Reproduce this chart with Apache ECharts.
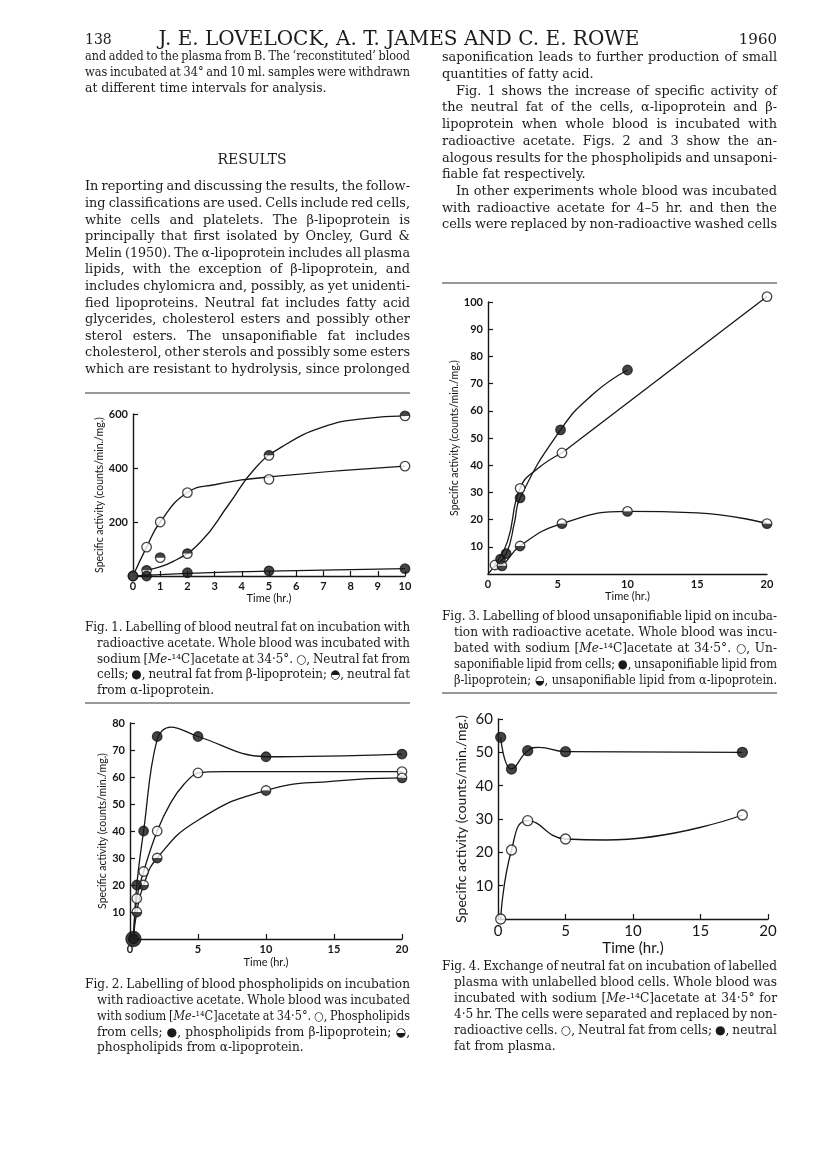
<!DOCTYPE html>
<html>
<head>
<meta charset="utf-8">
<title>Lovelock, James and Rowe 1960, p. 138</title>
<script src="https://cdn.jsdelivr.net/npm/echarts@6/dist/echarts.min.js"></script>
<style>html,body{margin:0;padding:0;background:#fff;}</style>
</head>
<body>
<div id="main" style="width:816px;height:1155px;"></div>
<script type="text/javascript">
// ---- values: [time (hr.), counts/min./mg.] ----
// Fig. 1 neutral fat
var fig1CellPoints  = [[0, 0], [0.5, 107], [1, 200], [2, 309], [5, 358], [10, 407]];
var fig1CellCurve   = [[0, 0], [0.5, 107], [1, 200], [2, 309], [3, 338], [5, 367], [10, 407]];
var fig1BetaPoints  = [[0, 0], [0.5, 0], [2, 12], [5, 19], [10, 27]];
var fig1BetaCurve   = [[0, 0], [2, 10], [5, 18], [10, 27]];
var fig1AlphaPoints = [[0.5, 21], [1, 68], [2, 83], [5, 447], [10, 593]];
var fig1AlphaCurve  = [[0.5, 22], [1.5, 55], [2.5, 128], [3.5, 262], [4.5, 400], [5.5, 480], [7, 552], [8.5, 583], [10, 593]];
// Fig. 2 phospholipids
var fig2CellPoints  = [[0.25, 0], [0.5, 15], [1, 25], [2, 40], [5, 61.5], [20, 62]];
var fig2CellCurve   = [[0.25, 0], [0.5, 15], [1, 25], [2, 40], [3, 50.5], [4, 57.5], [5, 61.5], [7, 62], [20, 62]];
var fig2BetaPoints  = [[0.25, 0], [0.5, 20], [1, 40], [2, 75], [5, 75], [10, 67.5], [20, 68.5]];
var fig2BetaCurve   = [[0.25, 0], [0.5, 20], [1, 40], [2, 74], [3, 78.5], [5, 75], [10, 67.5], [20, 68.5]];
var fig2AlphaPoints = [[0.5, 10], [1, 20], [2, 30], [10, 55], [20, 59.7]];
var fig2AlphaCurve  = [[0.25, 0], [0.5, 10], [1, 20], [2, 30], [5, 44], [10, 55], [15, 58.5], [20, 59.7]];
// Fig. 3 unsaponifiable lipid
var fig3CellPoints  = [[0.5, 3.3], [2.3, 31.5], [5.3, 44.5], [20, 102]];
var fig3CellCurve   = [[0, 0], [0.5, 3.3], [1.4, 12], [2.3, 31.5], [3.5, 38.5], [5.3, 44.5]];
var fig3CellLine    = [[5.3, 44.5], [20, 102]];
var fig3BetaPoints  = [[0.9, 5.5], [1.3, 7.5], [2.3, 28], [5.2, 53], [10, 75]];
var fig3BetaCurve   = [[0.3, 2], [1.3, 7.5], [1.9, 19], [2.3, 28], [5.2, 53], [7.5, 66], [10, 75]];
var fig3AlphaPoints = [[1, 3], [2.3, 10.3], [5.3, 18.5], [10, 23], [20, 18.5]];
var fig3AlphaCurve  = [[0.5, 2], [1, 3], [2.3, 10.3], [5.3, 18.5], [10, 23], [15, 22.5], [20, 18.5]];
// Fig. 4 exchange of neutral fat
var fig4PlasmaPoints = [[0.2, 54.5], [1, 45], [2.2, 50.5], [5, 50.2], [18.1, 50]];
var fig4PlasmaCurve  = [[0.2, 54.5], [1, 45], [2.2, 50.5], [3, 51.5], [5, 50.2], [18.1, 50]];
var fig4CellPoints   = [[0.2, 0], [1, 20.7], [2.2, 29.5], [5, 24], [18.1, 31.2]];
var fig4CellCurve    = [[0.2, 0], [1, 20.7], [2.2, 29.5], [5, 24], [8, 23.7], [18.1, 31.2]];

// ---- page text (one entry per printed line) ----
var headerTitle = 'J. E. LOVELOCK, A. T. JAMES AND C. E. ROWE';
var leftTopLines = [
  'and added to the plasma from B. The \u2018reconstituted\u2019 blood',
  'was incubated at 34\u00b0 and 10 ml. samples were withdrawn',
  'at different time intervals for analysis.'
];
var resultsLines = [
  'In reporting and discussing the results, the follow-',
  'ing classifications are used.  Cells include red cells,',
  'white cells and platelets. The \u03b2-lipoprotein is',
  'principally that first isolated by Oncley, Gurd &',
  'Melin (1950). The \u03b1-lipoprotein includes all plasma',
  'lipids, with the exception of \u03b2-lipoprotein, and',
  'includes chylomicra and, possibly, as yet unidenti-',
  'fied lipoproteins. Neutral fat includes fatty acid',
  'glycerides, cholesterol esters and possibly other',
  'sterol esters. The unsaponifiable fat includes',
  'cholesterol, other sterols and possibly some esters',
  'which are resistant to hydrolysis, since prolonged'
];
var rightTopLines = [
  'saponification leads to further production of small',
  'quantities of fatty acid.',
  'Fig. 1 shows the increase of specific activity of',
  'the neutral fat of the cells, \u03b1-lipoprotein and \u03b2-',
  'lipoprotein when whole blood is incubated with',
  'radioactive acetate. Figs. 2 and 3 show the an-',
  'alogous results for the phospholipids and unsaponi-',
  'fiable fat respectively.',
  'In other experiments whole blood was incubated',
  'with radioactive acetate for 4\u20135 hr. and then the',
  'cells were replaced by non-radioactive washed cells'
];
var fig1Caption = [
  'Fig. 1. Labelling of blood neutral fat on incubation with',
  'radioactive acetate. Whole blood was incubated with',
  'sodium [{i|Me}-\u00b9\u2074C]acetate at 34\u00b75\u00b0. {s|\u25cb}, Neutral fat from',
  'cells; {s|\u25cf}, neutral fat from \u03b2-lipoprotein; {s|\u25d3}, neutral fat',
  'from \u03b1-lipoprotein.'
];
var fig2Caption = [
  'Fig. 2. Labelling of blood phospholipids on incubation',
  'with radioactive acetate. Whole blood was incubated',
  'with sodium [{i|Me}-\u00b9\u2074C]acetate at 34\u00b75\u00b0. {s|\u25cb}, Phospholipids',
  'from cells; {s|\u25cf}, phospholipids from \u03b2-lipoprotein; {s|\u25d2},',
  'phospholipids from \u03b1-lipoprotein.'
];
var fig3Caption = [
  'Fig. 3. Labelling of blood unsaponifiable lipid on incuba-',
  'tion with radioactive acetate. Whole blood was incu-',
  'bated with sodium [{i|Me}-\u00b9\u2074C]acetate at 34\u00b75\u00b0. {s|\u25cb}, Un-',
  'saponifiable lipid from cells; {s|\u25cf}, unsaponifiable lipid from',
  '\u03b2-lipoprotein; {s|\u25d2}, unsaponifiable lipid from \u03b1-lipoprotein.'
];
var fig4Caption = [
  'Fig. 4. Exchange of neutral fat on incubation of labelled',
  'plasma with unlabelled blood cells. Whole blood was',
  'incubated with sodium [{i|Me}-\u00b9\u2074C]acetate at 34\u00b75\u00b0 for',
  '4\u00b75 hr. The cells were separated and replaced by non-',
  'radioactive cells. {s|\u25cb}, Neutral fat from cells; {s|\u25cf}, neutral',
  'fat from plasma.'
];
var yTitle = 'Specific activity (counts/min./mg.)';
var xTitle = 'Time (hr.)';

var INK = '#161616';
var TEXT = '#1b1b1b';
var SANS = 'Lato, "Open Sans", sans-serif';
var SERIF_NAME = 'DejaVu Serif';
var SERIF = '"DejaVu Serif", "Liberation Serif", serif';
var SYM = '"DejaVu Sans", sans-serif';

var myChart = echarts.init(document.getElementById('main'));

function xAxisFor(i, max, interval, fs, gap, ticks) {
    return {
        type: 'value', gridIndex: i, min: 0, max: max, interval: interval,
        name: xTitle, nameLocation: 'middle', nameGap: gap,
        nameTextStyle: {fontFamily: SANS, fontSize: fs, color: INK},
        axisLine: {lineStyle: {color: INK, width: 1.4}},
        axisTick: {show: ticks, inside: true, length: 5, lineStyle: {color: INK, width: 1.2}},
        axisLabel: {fontFamily: SANS, fontSize: fs, fontWeight: fs > 12 ? 'normal' : 'bold', color: INK, margin: 5},
        splitLine: {show: false}
    };
}
function yAxisFor(i, max, interval, fs, gap) {
    return {
        type: 'value', gridIndex: i, min: 0, max: max, interval: interval,
        name: yTitle, nameLocation: 'middle', nameGap: gap, nameRotate: 90,
        nameTextStyle: {fontFamily: SANS, fontSize: fs > 12 ? 14 : 10.5, color: INK},
        axisLine: {lineStyle: {color: INK, width: 1.4}},
        axisTick: {show: true, inside: true, length: 5, lineStyle: {color: INK, width: 1.2}},
        axisLabel: {fontFamily: SANS, fontSize: fs, fontWeight: fs > 12 ? 'normal' : 'bold', color: INK, margin: 5, showMinLabel: false},
        splitLine: {show: false}
    };
}

function curve(i, data, smooth) {
    return {
        type: 'line', xAxisIndex: i, yAxisIndex: i, data: data,
        smooth: smooth === undefined ? 0.5 : smooth, showSymbol: false, symbol: 'none',
        lineStyle: {color: INK, width: 1.3}, silent: true, z: 2, clip: false
    };
}
// kind: 'open', 'filled', 'top' (upper half black), 'bottom' (lower half black)
function points(i, data, kind, size) {
    var s = size || 9.5;
    var list = [{
        type: 'scatter', xAxisIndex: i, yAxisIndex: i, data: data, clip: false,
        symbol: 'circle', symbolSize: s, silent: true, z: 3,
        itemStyle: {color: kind === 'filled' ? INK : '#fff', borderColor: INK, borderWidth: 1.3}
    }];
    if (kind === 'top' || kind === 'bottom') {
        list.push({
            type: 'scatter', xAxisIndex: i, yAxisIndex: i, data: data, clip: false,
            symbol: kind === 'top' ? 'path://M0,10 A10,10 0 0 1 20,10 Z' : 'path://M0,0 A10,10 0 0 0 20,0 Z',
            symbolSize: [s, s / 2], symbolOffset: [0, kind === 'top' ? -s / 4 : s / 4],
            silent: true, z: 4, itemStyle: {color: INK}
        });
    }
    return list;
}

// ---- text helpers: each printed line is set word by word and justified ----
var ctx = document.createElement('canvas').getContext('2d');
function wordWidth(word, size) {
    var w = 0, re = /\{(\w)\|([^}]*)\}/g, last = 0, m;
    function plain(t, font) { if (!t) return 0; ctx.font = font; return ctx.measureText(t).width; }
    while ((m = re.exec(word)) !== null) {
        w += plain(word.slice(last, m.index), size + 'px "' + SERIF_NAME + '"');
        if (m[1] === 'i') w += plain(m[2], 'italic ' + size + 'px "' + SERIF_NAME + '"');
        else w += plain(m[2], size + 'px "DejaVu Sans"');
        last = re.lastIndex;
    }
    return w + plain(word.slice(last), size + 'px "' + SERIF_NAME + '"');
}
function textAt(x, y, str, size, extra, sx) {
    var st = {
        text: str, fontFamily: SERIF, fontSize: size, fill: TEXT,
        verticalAlign: 'middle', align: 'left',
        rich: {
            i: {fontFamily: SERIF, fontSize: size, fontStyle: 'italic', fill: TEXT},
            s: {fontFamily: SYM, fontSize: size, fill: TEXT}
        }
    };
    if (extra) { for (var k in extra) st[k] = extra[k]; }
    return {type: 'text', x: x, y: y, scaleX: sx || 1, silent: true, style: st};
}
function setLine(x, y, width, str, size, justify) {
    var words = str.split(' ').filter(function (w) { return w.length; });
    var widths = words.map(function (w) { return wordWidth(w, size); });
    var total = widths.reduce(function (a, b) { return a + b; }, 0);
    var space = wordWidth(' ', size);
    // condense the line a little when it would not fit with a decent word space
    var need = total + (justify ? 0.75 : 1) * space * (words.length - 1);
    var sx = need > width ? width / need : 1;
    var gap = (justify && words.length > 1) ? (width - total * sx) / (words.length - 1) : space * sx;
    var out = [], cx = x;
    words.forEach(function (w, n) {
        out.push(textAt(cx, y, w, size, null, sx));
        cx += widths[n] * sx + gap;
    });
    return out;
}
// o: x, right, y0, step, size, indent (continuation lines), ragged (lines not justified), indents (paragraph starts)
function block(lines, o) {
    var out = [];
    lines.forEach(function (l, n) {
        var x = o.x;
        if (o.indent && n > 0) x += o.indent;
        if (o.indents && o.indents.indexOf(n) >= 0) x += o.paraIndent;
        var ragged = o.ragged.indexOf(n) >= 0;
        out = out.concat(setLine(x, o.y0 + n * o.step, o.right - x, l, o.size, !ragged));
    });
    return out;
}
function rule(x1, x2, y) {
    return {type: 'line', silent: true, shape: {x1: x1, y1: y, x2: x2, y2: y},
            style: {stroke: '#333', lineWidth: 1.2}};
}

var graphics = [
    textAt(85, 40, '138', 14),
    textAt(399, 40, headerTitle, 20, {align: 'center'}),
    textAt(777, 40, '1960', 15, {align: 'right'}),
    textAt(252, 160, 'RESULTS', 14, {align: 'center'}),
    rule(85, 410, 393), rule(442, 777, 283), rule(85, 410, 703), rule(442, 777, 693)
];
graphics = graphics
    .concat(block(leftTopLines, {x: 85, right: 410, y0: 57, step: 15.8, size: 12.4, ragged: [2]}))
    .concat(block(resultsLines, {x: 85, right: 410, y0: 187, step: 16.6, size: 12.9, ragged: []}))
    .concat(block(rightTopLines, {x: 442, right: 777, y0: 58, step: 16.7, size: 12.9, ragged: [1, 7],
                                  indents: [2, 8], paraIndent: 14}))
    .concat(block(fig1Caption, {x: 85, right: 410, y0: 628, step: 15.7, size: 12.2, indent: 12, ragged: [4]}))
    .concat(block(fig2Caption, {x: 85, right: 410, y0: 985, step: 15.8, size: 12.2, indent: 12, ragged: [4]}))
    .concat(block(fig3Caption, {x: 442, right: 777, y0: 617, step: 16, size: 12.2, indent: 12, ragged: [4]}))
    .concat(block(fig4Caption, {x: 442, right: 777, y0: 967, step: 16, size: 12.2, indent: 12, ragged: [5]}));

var option = {
    animation: false,
    backgroundColor: '#fff',
    grid: [
        {left: 133, top: 414, width: 272, height: 162},
        {left: 130, top: 723, width: 272, height: 216},
        {left: 488, top: 302, width: 279, height: 272},
        {left: 498, top: 719, width: 270, height: 200}
    ],
    xAxis: [
        xAxisFor(0, 10, 1, 11, 15, true),
        xAxisFor(1, 20, 5, 11, 18, true),
        xAxisFor(2, 20, 5, 11, 16, false),
        xAxisFor(3, 20, 5, 15, 22, true)
    ],
    yAxis: [
        yAxisFor(0, 600, 200, 11, 26),
        yAxisFor(1, 80, 10, 11, 19),
        yAxisFor(2, 100, 10, 11, 17),
        yAxisFor(3, 60, 10, 15, 30)
    ],
    graphic: graphics,
    series: [].concat(
        curve(0, fig1CellCurve), curve(0, fig1BetaCurve), curve(0, fig1AlphaCurve),
        points(0, fig1CellPoints, 'open'), points(0, fig1AlphaPoints, 'top'), points(0, fig1BetaPoints, 'filled'),

        curve(1, fig2CellCurve, 0.3), curve(1, fig2BetaCurve, 0.4), curve(1, fig2AlphaCurve),
        points(1, fig2CellPoints, 'open'), points(1, fig2AlphaPoints, 'bottom'), points(1, fig2BetaPoints, 'filled'),
        points(1, fig2BetaPoints.slice(0, 1), 'filled', 15),

        curve(2, fig3CellCurve), curve(2, fig3CellLine, false), curve(2, fig3BetaCurve), curve(2, fig3AlphaCurve),
        points(2, fig3CellPoints, 'open'), points(2, fig3AlphaPoints, 'bottom'), points(2, fig3BetaPoints, 'filled'),

        curve(3, fig4PlasmaCurve), curve(3, fig4CellCurve),
        points(3, fig4CellPoints, 'open', 10), points(3, fig4PlasmaPoints, 'filled', 10)
    )
};

myChart.setOption(option);
</script>
</body>
</html>
